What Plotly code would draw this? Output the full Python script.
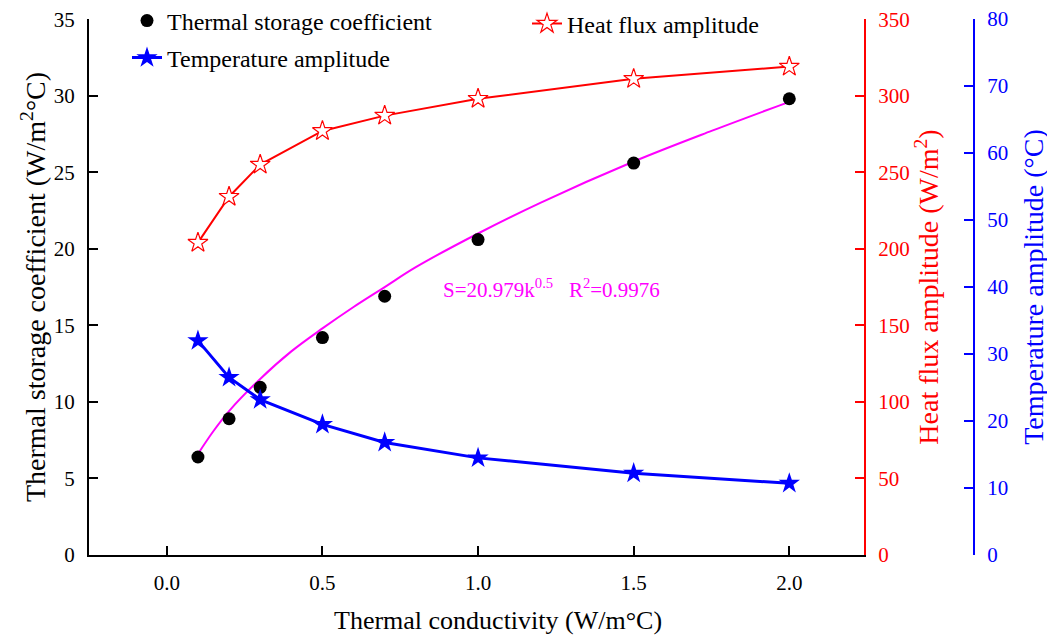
import plotly.graph_objects as go

k = [0.1, 0.2, 0.3, 0.5, 0.7, 1.0, 1.5, 2.0]
storage = [6.4, 8.9, 10.95, 14.2, 16.9, 20.6, 25.6, 29.8]
heat_flux = [204, 234, 255, 277, 287, 298, 311, 319]
temp_amp = [32.0, 26.5, 23.2, 19.5, 16.8, 14.5, 12.2, 10.7]

fit_k = [0.1, 0.15, 0.2, 0.3, 0.4, 0.5, 0.6, 0.7, 0.8, 1.0, 1.2, 1.5, 1.75, 2.0]
fit_s = [6.6, 8.1, 9.4, 11.5, 13.3, 14.8, 16.2, 17.5, 18.8, 21.0, 23.0, 25.7, 27.7, 29.6]

x_ticks = [0.0, 0.5, 1.0, 1.5, 2.0]
y1_ticks = [0, 5, 10, 15, 20, 25, 30, 35]
y2_ticks = [0, 50, 100, 150, 200, 250, 300, 350]
y3_ticks = [0, 10, 20, 30, 40, 50, 60, 70, 80]

FONT = "Liberation Serif"
W, H = 1055, 638
L, R, T, B = 81, 89, 11, 91
pw = W - L - R
ph = H - T - B
xdom_end = (856 - L) / pw


def ly(ypix):
    return (H - B - ypix) / ph


def lx(xpix):
    return (xpix - L) / pw


fig = go.Figure()
fig.add_trace(go.Scatter(x=fit_k, y=fit_s, mode="lines", line=dict(color="#FF00FF", width=2, shape="spline"),
                         showlegend=False, yaxis="y"))
fig.add_trace(go.Scatter(x=k, y=storage, mode="markers", name="Thermal storage coefficient",
                         marker=dict(color="black", size=13, symbol="circle"), yaxis="y", legend="legend"))
fig.add_trace(go.Scatter(x=k, y=temp_amp, mode="lines+markers", name="Temperature amplitude",
                         line=dict(color="#0000FF", width=3),
                         marker=dict(color="#0000FF", size=16, symbol="star"), yaxis="y3", legend="legend3"))
fig.add_trace(go.Scatter(x=k, y=heat_flux, mode="lines+markers", name="Heat flux amplitude",
                         line=dict(color="#FF0000", width=2),
                         marker=dict(color="white", size=15, symbol="star", line=dict(color="#FF0000", width=1.2)),
                         yaxis="y2", legend="legend2"))

fig.add_annotation(x=0.88, y=17.4, xref="x", yref="y", xanchor="left", yanchor="middle", showarrow=False,
                   text="S=20.979k<sup>0.5</sup>   R<sup>2</sup>=0.9976",
                   font=dict(family=FONT, size=21, color="#FF00FF"))

fig.add_annotation(x=lx(490), y=ly(612), xref="paper", yref="paper", xanchor="center", yanchor="middle",
                   showarrow=False, text="Thermal conductivity (W/m°C)",
                   font=dict(family=FONT, size=26, color="black"))

common = dict(ticks="inside", ticklen=9, tickwidth=2, showline=True, linewidth=2,
              showgrid=False, zeroline=False, automargin=False, ticklabelstandoff=8,
              ticklabeloverflow="allow")

fig.update_layout(
    width=W, height=H,
    margin=dict(l=L, r=R, t=T, b=B, autoexpand=False),
    plot_bgcolor="white", paper_bgcolor="white",
    font=dict(family=FONT, size=21, color="black"),
    xaxis=dict(domain=[0, xdom_end], range=[-0.25, 2.24], tickvals=x_ticks, tickformat=".1f",
               tickcolor="black", linecolor="black",
               tickfont=dict(family=FONT, size=21),
               **common),
    yaxis=dict(range=[0, 35.01], tickvals=y1_ticks, tickcolor="black", linecolor="black",
               tickfont=dict(family=FONT, size=21),
               title=dict(text="Thermal storage coefficient (W/m<sup>2</sup>°C)", font=dict(family=FONT, size=28), standoff=0),
               **common),
    yaxis2=dict(range=[0, 350.1], tickvals=y2_ticks, overlaying="y", side="right", anchor="x",
                tickcolor="#FF0000", linecolor="#FF0000",
                tickfont=dict(family=FONT, size=21, color="#FF0000"),
                title=dict(text="Heat flux amplitude (W/m<sup>2</sup>)", font=dict(family=FONT, size=28, color="#FF0000"), standoff=6),
                **common),
    yaxis3=dict(range=[0, 80.02], tickvals=y3_ticks, overlaying="y", side="right", anchor="free", position=1.0,
                tickcolor="#0000FF", linecolor="#0000FF",
                tickfont=dict(family=FONT, size=21, color="#0000FF"),
                title=dict(text="Temperature amplitude (°C)", font=dict(family=FONT, size=28, color="#0000FF"), standoff=15),
                **common),
    legend=dict(x=lx(119), y=ly(13), xanchor="left", yanchor="middle", bgcolor="rgba(0,0,0,0)",
                font=dict(family=FONT, size=24)),
    legend3=dict(x=lx(119), y=ly(50), xanchor="left", yanchor="middle", bgcolor="rgba(0,0,0,0)",
                 font=dict(family=FONT, size=24)),
    legend2=dict(x=lx(519), y=ly(16), xanchor="left", yanchor="middle", bgcolor="rgba(0,0,0,0)",
                 font=dict(family=FONT, size=24)),
)

fig.write_html("out.html")
